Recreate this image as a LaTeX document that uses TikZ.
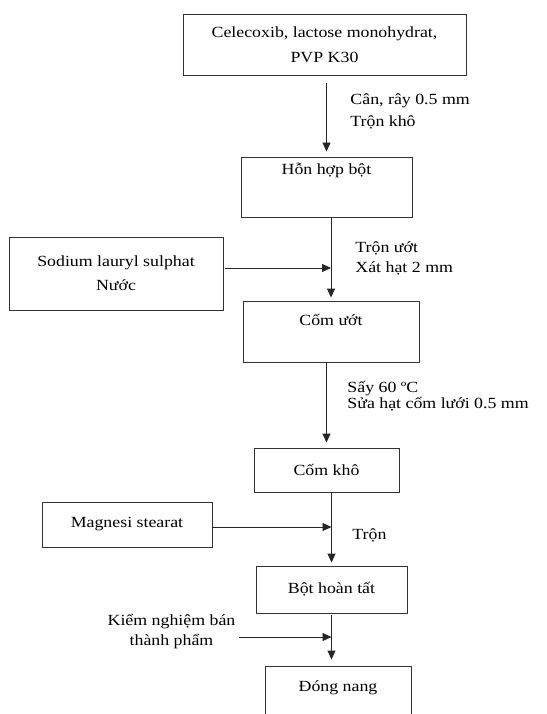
\documentclass[tikz,border=0pt]{standalone}
\usepackage{fontspec}
\setmainfont{Liberation Serif}[FakeStretch=1.15]
\usetikzlibrary{arrows.meta}

\begin{document}
\begin{tikzpicture}[x=1pt,y=-1pt,line width=0.9pt]
    \tikzstyle{stepbox} = [rectangle, draw=black!80, inner sep=0pt, align=center, font=\fontsize{15.5}{25}\selectfont]
    \tikzstyle{lbl} = [inner sep=0pt, align=left, anchor=west]
    \tikzstyle{arr} = [draw=black!85, -{Triangle[width=8pt,length=9pt]}]
    \useasboundingbox (0,0) rectangle (546,714);
    \node (s0) at (324.5,44.5) [stepbox, minimum width=283pt, minimum height=61pt] {Celecoxib, lactose monohydrat,\\PVP K30};
    \node (s1) at (326.5,187) [stepbox, minimum width=171pt, text height=18pt, text depth=42pt] {Hỗn hợp bột};
    \node (s2) at (331,331.5) [stepbox, minimum width=176pt, text height=24pt, text depth=37pt] {Cốm ướt};
    \node (s3) at (326.5,470) [stepbox, minimum width=145pt, minimum height=44pt] {Cốm khô};
    \node (s4) at (331.5,589.5) [stepbox, minimum width=151pt, minimum height=47pt] {Bột hoàn tất};
    \node (s5) at (338,701) [stepbox, minimum width=146pt, text height=25pt, text depth=45pt] {Đóng nang};
    \node (in1) at (116,273.5) [stepbox, minimum width=214pt, minimum height=73pt, font=\fontsize{15.5}{24}\selectfont] {Sodium lauryl sulphat\\Nước};
    \node (in2) at (127,524.5) [stepbox, minimum width=170pt, minimum height=45pt] {Magnesi stearat};
    \node (in3) at (171.5,632) [inner sep=0pt, align=center, font=\fontsize{15.5}{20}\selectfont] {Kiểm nghiệm bán\\thành phẩm};
    \node (l1) at (350,111) [lbl, font=\fontsize{15.5}{22}\selectfont] {Cân, rây 0.5 mm\\Trộn khô};
    \node (l2) at (355,258) [lbl, font=\fontsize{15.5}{20}\selectfont] {Trộn ướt\\Xát hạt 2 mm};
    \node (l3) at (347,396) [lbl, font=\fontsize{15.5}{15.5}\selectfont] {Sấy 60 ºC\\Sửa hạt cốm lưới 0.5 mm};
    \node (l4) at (352,535) [lbl, font=\fontsize{15.5}{20}\selectfont] {Trộn};
    \coordinate (j1) at (331,268);
    \coordinate (j2) at (331.5,527);
    \coordinate (j3) at (331.5,637);
    \draw[arr, shorten <=8pt, shorten >=5pt] (s0.south -| s1.north) -- (s1.north);
    \draw[arr, shorten >=3pt] (s1.south -| s2.north) -- (s2.north);
    \draw[arr, shorten >=5pt] (s2.south -| s3.north) -- (s3.north);
    \draw[arr, shorten >=3pt] (s3.south -| s4.north) -- (s4.north);
    \draw[arr, shorten <=2pt, shorten >=6pt] (s4.south) -- (s4.south |- s5.north);
    \draw[arr, shorten <=2pt] (in1.east |- j1) -- (j1);
    \draw[arr] (in2.east |- j2) -- (j2);
    \draw[arr, shorten <=3pt] (in3.east |- j3) -- (j3);
\end{tikzpicture}
\end{document}
